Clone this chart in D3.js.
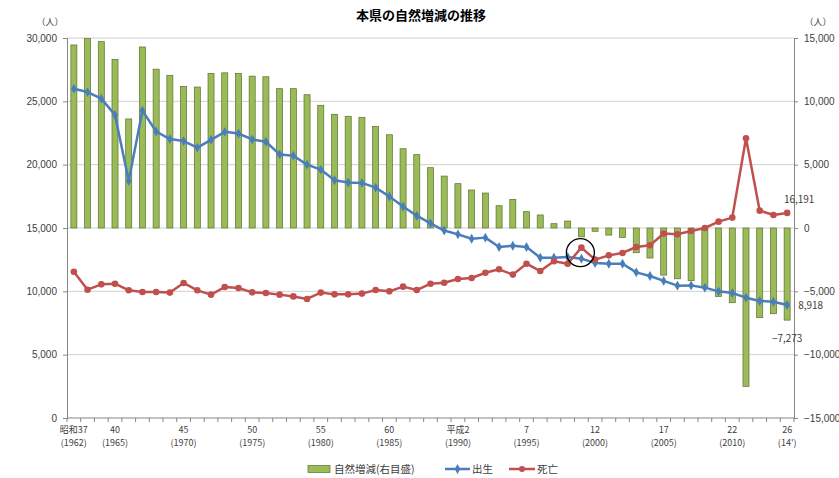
<!DOCTYPE html>
<html>
<head>
<meta charset="utf-8">
<script src="https://cdn.jsdelivr.net/npm/d3@7"></script>
<style>
  body { margin: 0; background: #fff; }
  svg { display: block; font-family: "Noto Sans CJK JP", "Noto Sans", sans-serif; }
</style>
</head>
<body>
<svg id="chart" width="839" height="478"></svg>
<script>
// 年次（昭和37年〜平成26年）
const years = d3.range(1962, 2015)

// 自然増減（右目盛）
const zouGen = [14450, 14950, 14710, 13300, 8610, 14290, 12540, 12040, 11180, 11130,
  12200, 12250, 12200, 11990, 11940, 11000, 11000, 10520, 9690, 8980,
  8820, 8720, 8010, 7360, 6260, 5790, 4760, 4100, 3500, 3000,
  2760, 1760, 2260, 1290, 1030, 340, 550, -700, -260, -560,
  -740, -1950, -2370, -3720, -4010, -4160, -4660, -5400, -5900, -12500,
  -7080, -6770, -7273]

// 出生
const births = [26000, 25730, 25210, 23930, 18720, 24270, 22620, 22020, 21860, 21340,
  21960, 22590, 22460, 21990, 21810, 20810, 20710, 20000, 19610, 18770,
  18590, 18560, 18190, 17490, 16700, 15970, 15370, 14800, 14500, 14150,
  14240, 13500, 13600, 13500, 12660, 12660, 12710, 12580, 12240, 12180,
  12180, 11500, 11210, 10820, 10450, 10470, 10290, 10000, 9870, 9500,
  9240, 9180, 8918]

// 死亡
const deaths = [11550, 10130, 10550, 10600, 10080, 9950, 9950, 9900, 10660, 10080,
  9740, 10340, 10260, 9920, 9870, 9740, 9600, 9400, 9900, 9760,
  9760, 9820, 10100, 10000, 10370, 10100, 10600, 10680, 10970, 11050,
  11470, 11740, 11320, 12180, 11600, 12370, 12180, 13450, 12500, 12840,
  13030, 13500, 13630, 14560, 14500, 14760, 15000, 15500, 15820, 22080,
  16370, 16030, 16191]

// x軸ラベル（元号, 西暦）
const tickYears = [1962, 1965, 1970, 1975, 1980, 1985, 1990, 1995, 2000, 2005, 2010, 2014]
const tickLine1 = ["昭和37", "40", "45", "50", "55", "60", "平成2", "7", "12", "17", "22", "26"]
const tickLine2 = ["(1962)", "(1965)", "(1970)", "(1975)", "(1980)", "(1985)", "(1990)", "(1995)", "(2000)", "(2005)", "(2010)", "(14')"]

const leftTicks = [0, 5000, 10000, 15000, 20000, 25000, 30000]
const rightTicks = [-15000, -10000, -5000, 0, 5000, 10000, 15000]

const svg = d3.select('#chart')
const pLeft = 67, pRight = 794, pTop = 38, pBottom = 418

const x = d3.scaleBand()
    .domain(years)
    .range([pLeft, pRight])
    .paddingInner(0.56)
    .paddingOuter(0.28)
const cx = d => x(d) + x.bandwidth() / 2

const yL = d3.scaleLinear().domain([0, 30000]).range([pBottom, pTop])
const yR = d3.scaleLinear().domain([-15000, 15000]).range([pBottom, pTop])

const fmt = d3.format(',')
const axisColor = '#868686'
const textColor = '#404040'

// title
svg.append('text')
    .attr('x', 421).attr('y', 20)
    .attr('text-anchor', 'middle')
    .attr('font-size', 13).attr('font-weight', 'bold')
    .attr('fill', '#000')
    .text('本県の自然増減の推移')

// gridlines
svg.append('g').selectAll('line')
    .data(leftTicks.filter(d => d > 0))
    .join('line')
    .attr('x1', pLeft).attr('x2', pRight)
    .attr('y1', d => yL(d)).attr('y2', d => yL(d))
    .attr('stroke', '#d0d0d0').attr('stroke-width', 1)

// left axis
const gL = svg.append('g')
    .attr('transform', `translate(${pLeft},0)`)
    .call(d3.axisLeft(yL).tickValues(leftTicks).tickFormat(fmt).tickSize(4).tickPadding(6))
gL.select('.domain').attr('stroke', axisColor)
gL.selectAll('.tick line').attr('stroke', axisColor)
gL.selectAll('text').attr('font-size', 10).attr('fill', textColor)

// right axis
const gR = svg.append('g')
    .attr('transform', `translate(${pRight},0)`)
    .call(d3.axisRight(yR).tickValues(rightTicks).tickFormat(fmt).tickSize(4).tickPadding(6))
gR.select('.domain').attr('stroke', axisColor)
gR.selectAll('.tick line').attr('stroke', axisColor)
gR.selectAll('text').attr('font-size', 10).attr('fill', textColor)

// units
svg.append('text').attr('x', 50).attr('y', 25).attr('text-anchor', 'middle')
    .attr('font-size', 9).attr('fill', textColor).text('（人）')
svg.append('text').attr('x', 818).attr('y', 25).attr('text-anchor', 'middle')
    .attr('font-size', 9).attr('fill', textColor).text('（人）')

// bars
svg.append('g').selectAll('rect')
    .data(years)
    .join('rect')
    .attr('x', d => x(d))
    .attr('width', x.bandwidth())
    .attr('y', (d, i) => Math.min(yR(zouGen[i]), yR(0)))
    .attr('height', (d, i) => Math.abs(yR(zouGen[i]) - yR(0)))
    .attr('fill', '#9bbb59')
    .attr('stroke', '#5a6f2c')
    .attr('stroke-width', 0.7)

// x axis
svg.append('line')
    .attr('x1', pLeft).attr('x2', pRight)
    .attr('y1', pBottom).attr('y2', pBottom)
    .attr('stroke', axisColor)
const step = x.step()
const edges = d3.range(years.length + 1).map(i => pLeft + i * step)
svg.append('g').selectAll('line')
    .data(edges)
    .join('line')
    .attr('x1', d => d).attr('x2', d => d)
    .attr('y1', pBottom).attr('y2', pBottom + 4)
    .attr('stroke', axisColor)

const xl = svg.append('g').selectAll('g')
    .data(tickYears)
    .join('g')
    .attr('transform', d => `translate(${cx(d)},0)`)
xl.append('text')
    .attr('y', 433).attr('text-anchor', 'middle')
    .attr('font-size', 9).attr('fill', textColor)
    .text((d, i) => tickLine1[i])
xl.append('text')
    .attr('y', 446).attr('text-anchor', 'middle')
    .attr('font-size', 9).attr('fill', textColor)
    .text((d, i) => tickLine2[i])

// lines
const blue = '#4a7ebb', red = '#c0504d'
const lineB = d3.line().x((d, i) => cx(years[i])).y(d => yL(d))

svg.append('path')
    .datum(births)
    .attr('d', lineB)
    .attr('fill', 'none').attr('stroke', blue).attr('stroke-width', 2.5)
    .attr('stroke-linejoin', 'round')
svg.append('g').selectAll('path')
    .data(births)
    .join('path')
    .attr('d', d3.symbol(d3.symbolDiamond, 28))
    .attr('transform', (d, i) => `translate(${cx(years[i])},${yL(d)})`)
    .attr('fill', blue)

svg.append('path')
    .datum(deaths)
    .attr('d', lineB)
    .attr('fill', 'none').attr('stroke', red).attr('stroke-width', 2.5)
    .attr('stroke-linejoin', 'round')
svg.append('g').selectAll('circle')
    .data(deaths)
    .join('circle')
    .attr('cx', (d, i) => cx(years[i]))
    .attr('cy', d => yL(d))
    .attr('r', 3.3)
    .attr('fill', red)

// circle marking 1999
svg.append('circle')
    .attr('cx', cx(1999) - 1)
    .attr('cy', yL(deaths[years.indexOf(1999)]) + 5)
    .attr('r', 14)
    .attr('fill', 'none').attr('stroke', '#000').attr('stroke-width', 1.3)

// value labels
const last = years.length - 1
svg.append('text')
    .attr('x', cx(2014) + 12).attr('y', yL(deaths[last]) - 10)
    .attr('text-anchor', 'middle').attr('font-size', 10).attr('fill', textColor)
    .text(fmt(deaths[last]))
svg.append('text')
    .attr('x', cx(2014) + 11).attr('y', yL(births[last]) + 4)
    .attr('font-size', 10).attr('fill', textColor)
    .text(fmt(births[last]))
svg.append('text')
    .attr('x', cx(2014)).attr('y', yR(zouGen[last]) + 22)
    .attr('text-anchor', 'middle').attr('font-size', 10).attr('fill', textColor)
    .text(fmt(zouGen[last]))

// legend
const lg = svg.append('g').attr('transform', 'translate(0,469)')
lg.append('rect').attr('x', 308).attr('y', -3.5).attr('width', 22).attr('height', 7)
    .attr('fill', '#9bbb59').attr('stroke', '#5a6f2c').attr('stroke-width', 0.7)
lg.append('text').attr('x', 334).attr('y', 4).attr('font-size', 10.5).attr('fill', textColor)
    .text('自然増減(右目盛)')
lg.append('line').attr('x1', 445).attr('x2', 470).attr('y1', 0).attr('y2', 0)
    .attr('stroke', blue).attr('stroke-width', 2.5)
lg.append('path').attr('d', d3.symbol(d3.symbolDiamond, 28)).attr('transform', 'translate(457.5,0)')
    .attr('fill', blue)
lg.append('text').attr('x', 472).attr('y', 4).attr('font-size', 10.5).attr('fill', textColor)
    .text('出生')
lg.append('line').attr('x1', 509).attr('x2', 535).attr('y1', 0).attr('y2', 0)
    .attr('stroke', red).attr('stroke-width', 2.5)
lg.append('circle').attr('cx', 522).attr('cy', 0).attr('r', 3).attr('fill', red)
lg.append('text').attr('x', 537).attr('y', 4).attr('font-size', 10.5).attr('fill', textColor)
    .text('死亡')
</script>
</body>
</html>
